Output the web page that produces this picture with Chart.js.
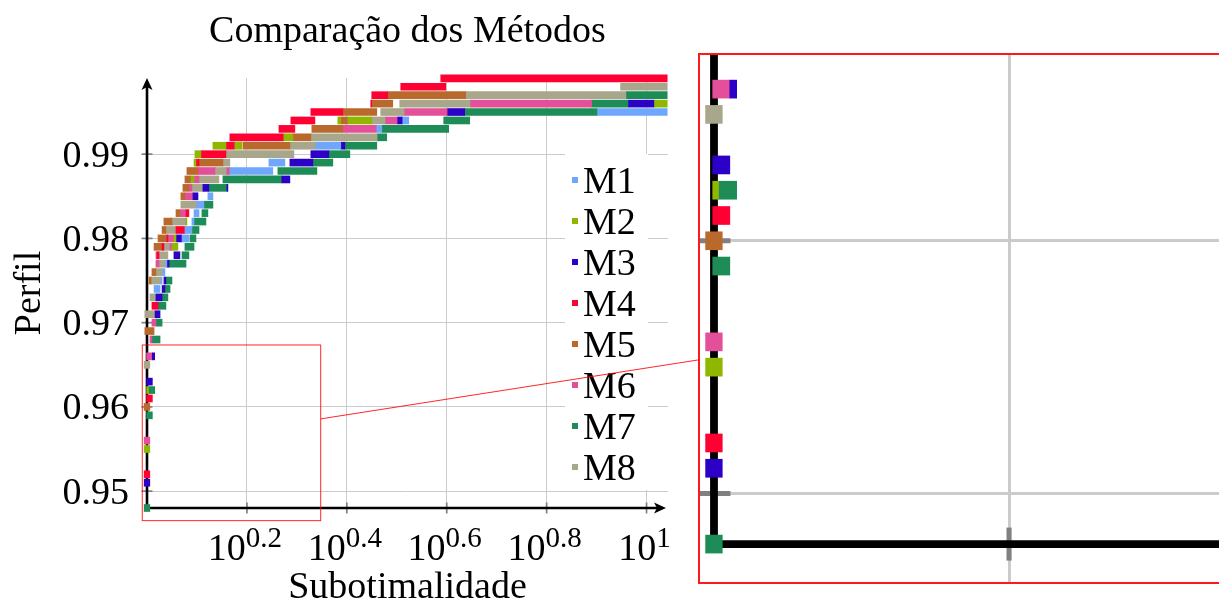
<!DOCTYPE html>
<html>
<head>
<meta charset="utf-8">
<script src="https://cdn.jsdelivr.net/npm/chart.js@4.4.0/dist/chart.umd.min.js"></script>
<style>
html, body { margin: 0; padding: 0; overflow: hidden; background: #fff; width: 1219px; height: 612px; }
#main { position: absolute; left: 0; top: 0; }
#zoom { position: absolute; left: 698px; top: 53px; }
</style>
</head>
<body>
<canvas id="main" width="700" height="612"></canvas>
<canvas id="zoom" width="531" height="531"></canvas>
<script>
// cada trecho: [perfil, tau inicio, tau fim]
var m1 = [[0.974,1.033,1.062],[0.975,1.067,1.072],[0.976,1.076,1.086],[0.977,1.091,1.096],[0.980,1.175,1.213],
    [0.981,1.191,1.230],[0.982,1.230,1.242],[0.983,1.242,1.271],[0.984,1.259,1.300],[0.985,1.324,1.355],
    [0.988,1.465,1.786],[0.989,1.754,1.888],[0.991,2.178,2.443],[0.993,2.884,2.951],[0.994,3.251,3.342],[0.995,7.980,11]];
var m2 = [[0.955,0.987,1.013],[0.962,0.998,1.007],[0.979,1.122,1.153],[0.980,1.132,1.143],[0.982,1.197,1.202],
    [0.987,1.225,1.242],[0.989,1.242,1.253],[0.990,1.247,1.282],[0.991,1.355,1.439],[0.991,1.499,1.548],
    [0.992,1.879,1.959],[0.994,2.410,2.443],[0.994,2.524,2.818],[0.996,10.375,11]];
var m3 = [[0.951,0.987,1.013],[0.963,0.998,1.025],[0.966,1.025,1.036],[0.971,1.038,1.062],[0.973,1.042,1.072],
    [0.974,1.072,1.086],[0.975,1.081,1.091],[0.977,1.096,1.107],[0.978,1.132,1.164],[0.980,1.143,1.175],
    [0.985,1.236,1.265],[0.986,1.294,1.330],[0.986,1.445,1.452],[0.987,1.862,1.932],[0.989,1.932,2.148],
    [0.990,2.128,2.312],[0.991,2.443,2.489],[0.994,3.176,3.251],[0.995,4.000,4.325],[0.996,9.204,10.375]];
var m4 = [[0.952,0.987,1.013],[0.961,0.998,1.025],[0.972,1.023,1.052],[0.978,1.047,1.057],[0.979,1.072,1.081],
    [0.980,1.096,1.101],[0.981,1.143,1.191],[0.983,1.197,1.213],[0.989,1.253,1.271],[0.990,1.282,1.439],
    [0.991,1.439,1.499],[0.992,1.465,1.879],[0.993,1.837,1.977],[0.994,1.941,2.168],[0.995,2.128,2.466],
    [0.996,2.805,2.818],[0.997,2.818,3.033],[0.998,3.221,3.963],[0.999,3.873,11]];
var m5 = [[0.960,0.987,1.013],[0.969,0.99,1.033],[0.975,1.009,1.019],[0.976,1.023,1.042],[0.979,1.033,1.072],
    [0.980,1.052,1.096],[0.981,1.072,1.091],[0.982,1.081,1.122],[0.983,1.143,1.164],[0.985,1.169,1.191],
    [0.986,1.180,1.213],[0.987,1.191,1.225],[0.988,1.202,1.265],[0.989,1.271,1.419],[0.991,1.556,1.932],
    [0.992,1.959,2.128],[0.993,2.138,2.466],[0.994,2.443,2.524],[0.995,2.466,2.884],[0.996,2.818,3.104],
    [0.997,3.033,4.345]];
var m6 = [[0.956,0.987,1.013],[0.966,0.998,1.025],[0.968,1.014,1.023],[0.970,1.023,1.042],[0.977,1.042,1.057],
    [0.978,1.042,1.047],[0.979,1.112,1.122],[0.980,1.101,1.132],[0.983,1.164,1.197],[0.985,1.191,1.236],
    [0.986,1.213,1.230],[0.987,1.242,1.271],[0.988,1.265,1.368],[0.988,1.445,1.465],[0.993,2.466,2.884],
    [0.994,3.005,3.176],[0.995,3.281,4.000],[0.996,4.446,7.762]];
var m7 = [[0.948,0.987,1.013],[0.959,0.998,1.025],[0.962,1.007,1.036],[0.968,1.023,1.062],[0.970,1.042,1.072],
    [0.972,1.052,1.091],[0.973,1.072,1.101],[0.974,1.086,1.112],[0.975,1.091,1.122],[0.977,1.107,1.197],
    [0.978,1.175,1.213],[0.979,1.191,1.242],[0.980,1.219,1.253],[0.981,1.230,1.271],[0.982,1.242,1.312],
    [0.983,1.288,1.324],[0.984,1.300,1.355],[0.986,1.330,1.445],[0.987,1.419,1.862],[0.988,1.828,2.188],
    [0.989,2.148,2.355],[0.990,2.312,2.547],[0.991,2.489,2.884],[0.992,2.897,3.019],[0.993,2.951,4.018],
    [0.994,3.926,4.426],[0.995,4.325,7.980],[0.996,7.762,9.204],[0.997,9.120,11]];
var m8 = [[0.965,0.987,1.013],[0.971,0.99,1.038],[0.973,1.014,1.042],[0.975,1.019,1.067],[0.976,1.042,1.076],
    [0.977,1.057,1.091],[0.978,1.057,1.101],[0.979,1.081,1.112],[0.981,1.091,1.143],[0.982,1.122,1.197],
    [0.984,1.169,1.259],[0.986,1.230,1.294],[0.987,1.271,1.393],[0.988,1.368,1.445],[0.989,1.419,1.465],
    [0.990,1.439,1.968],[0.991,1.932,2.178],[0.992,2.128,2.897],[0.994,2.818,3.005],[0.995,2.937,3.281],
    [0.996,3.206,4.446],[0.997,4.345,9.120],[0.998,8.872,11]];

var metodos = ["M1", "M2", "M3", "M4", "M5", "M6", "M7", "M8"];
var cores = ["#6ea7fb", "#8fb700", "#2c00c6", "#ff0033", "#b9692c", "#e44f9a", "#1d8c57", "#a8a78c"];
var series = [m1, m2, m3, m4, m5, m6, m7, m8];

var yTicks = [0.95, 0.96, 0.97, 0.98, 0.99];
var xTickExp = ["0.2", "0.4", "0.6", "0.8", "1"];
var xLim = [1, 11.04];
var yLim = [0.948, 0.99904];
var zoomX = [0.9784, 2.227];
var zoomY = [0.9465, 0.96735];

var fonte = '"Liberation Serif", "Times New Roman", serif';

function montaDatasets(espessura, corta) {
    return series.map(function (s, i) {
        return {
            label: metodos[i],
            data: s.map(function (p) { return { y: p[0], x: [p[1], p[2]] }; }),
            backgroundColor: cores[i],
            borderWidth: 0,
            barThickness: espessura,
            grouped: false,
            clip: corta
        };
    });
}

function escalas(xr, yr, k) {
    return {
        x: {
            type: 'logarithmic', min: xr[0], max: xr[1],
            afterBuildTicks: function (s) {
                s.ticks = xTickExp.map(function (e) { return { value: Math.pow(10, parseFloat(e)) }; })
                    .filter(function (t) { return t.value >= s.min && t.value <= s.max; });
            },
            ticks: { display: false },
            grid: { color: '#cbcbcb', lineWidth: k, drawTicks: false },
            border: { display: false }
        },
        y: {
            type: 'linear', min: yr[0], max: yr[1], offset: false,
            afterBuildTicks: function (s) {
                s.ticks = yTicks.filter(function (v) { return v >= s.min && v <= s.max; })
                    .map(function (v) { return { value: v }; });
            },
            ticks: { display: false },
            grid: { color: '#cbcbcb', lineWidth: k, drawTicks: false, offset: false },
            border: { display: false }
        }
    };
}

function linha(ctx, x1, y1, x2, y2) {
    ctx.beginPath();
    ctx.moveTo(x1, y1);
    ctx.lineTo(x2, y2);
    ctx.stroke();
}

// eixos e marcas, k = fator de escala (1 no grafico, 3 no zoom)
function desenhaEixos(chart, k, seta) {
    var ctx = chart.ctx, a = chart.chartArea, sx = chart.scales.x, sy = chart.scales.y;
    var x0 = sx.getPixelForValue(1), y0 = sy.getPixelForValue(yLim[0]);
    ctx.save();
    ctx.strokeStyle = '#808080';
    ctx.lineWidth = 1.7 * k;
    sy.ticks.forEach(function (t) {
        var y = sy.getPixelForValue(t.value);
        linha(ctx, x0 - 5.5 * k, y, x0 + 5.5 * k, y);
    });
    sx.ticks.forEach(function (t) {
        var x = sx.getPixelForValue(t.value);
        linha(ctx, x, y0 - 5.5 * k, x, y0 + 5.5 * k);
    });
    ctx.strokeStyle = '#000';
    ctx.fillStyle = '#000';
    ctx.lineWidth = 2.6 * k;
    if (seta) {
        linha(ctx, x0, y0 + 1, x0, a.top + 8);
        linha(ctx, x0 - 1, y0, a.right - 8, y0);
        ctx.beginPath();
        ctx.moveTo(x0, a.top);
        ctx.lineTo(x0 - 5.5, a.top + 12);
        ctx.lineTo(x0, a.top + 9);
        ctx.lineTo(x0 + 5.5, a.top + 12);
        ctx.closePath();
        ctx.fill();
        ctx.beginPath();
        ctx.moveTo(a.right - 2, y0);
        ctx.lineTo(a.right - 14, y0 - 5.5);
        ctx.lineTo(a.right - 11, y0);
        ctx.lineTo(a.right - 14, y0 + 5.5);
        ctx.closePath();
        ctx.fill();
    } else {
        linha(ctx, x0, y0 + 1.3 * k, x0, a.top);
        linha(ctx, x0 - 1.3 * k, y0, a.right, y0);
    }
    ctx.restore();
}

var eixosMain = {
    id: 'eixosMain',
    beforeDatasetsDraw: function (chart) { desenhaEixos(chart, 1, true); },
    afterDraw: function (chart) {
        var ctx = chart.ctx, a = chart.chartArea, sx = chart.scales.x, sy = chart.scales.y;
        var cx = (a.left + a.right) / 2;
        ctx.save();
        ctx.fillStyle = '#000';
        ctx.font = '38px ' + fonte;
        ctx.textAlign = 'center';
        ctx.fillText('Comparação dos Métodos', cx, 42);
        ctx.fillText('Subotimalidade', cx, 598);
        ctx.save();
        ctx.translate(40, (a.top + a.bottom) / 2);
        ctx.rotate(-Math.PI / 2);
        ctx.fillText('Perfil', 0, 0);
        ctx.restore();

        ctx.textAlign = 'right';
        yTicks.forEach(function (v) {
            ctx.fillText(v.toFixed(2), 129, sy.getPixelForValue(v) + 12.5);
        });

        ctx.textAlign = 'left';
        xTickExp.forEach(function (e) {
            var x = sx.getPixelForValue(Math.pow(10, parseFloat(e)));
            ctx.font = '38px ' + fonte;
            var w1 = ctx.measureText('10').width;
            ctx.font = '29px ' + fonte;
            var w2 = ctx.measureText(e).width;
            var xs = x - (w1 + w2) / 2 - 2;
            ctx.font = '38px ' + fonte;
            ctx.fillText('10', xs, 560);
            ctx.font = '29px ' + fonte;
            ctx.fillText(e, xs + w1, 547);
        });

        // legenda
        ctx.fillStyle = '#fff';
        ctx.fillRect(565, 154, 83, 336);
        ctx.font = '38px ' + fonte;
        metodos.forEach(function (m, i) {
            var y = 180 + 41 * i;
            ctx.fillStyle = cores[i];
            ctx.fillRect(572, y - 3, 6, 6);
            ctx.fillStyle = '#000';
            ctx.fillText(m, 583, y + 12.5);
        });

        // retangulo do zoom e ligacao
        var rx1 = sx.getPixelForValue(zoomX[0]), rx2 = sx.getPixelForValue(zoomX[1]);
        var ry1 = sy.getPixelForValue(zoomY[1]), ry2 = sy.getPixelForValue(zoomY[0]);
        ctx.strokeStyle = 'rgba(255,0,0,0.85)';
        ctx.lineWidth = 1;
        ctx.strokeRect(rx1, ry1, rx2 - rx1, ry2 - ry1);
        var c1x = (rx1 + rx2) / 2, c1y = (ry1 + ry2) / 2;
        var c2x = 963.5, c2y = 318.5;
        var inc = (c2y - c1y) / (c2x - c1x);
        linha(ctx, rx2, c1y + (rx2 - c1x) * inc, 700, c1y + (700 - c1x) * inc);
        ctx.restore();
    }
};

var eixosZoom = {
    id: 'eixosZoom',
    beforeDatasetsDraw: function (chart) { desenhaEixos(chart, 3, false); },
    afterDraw: function (chart) {
        var ctx = chart.ctx;
        ctx.save();
        ctx.strokeStyle = '#ff1a1a';
        ctx.lineWidth = 2;
        ctx.strokeRect(1, 1, chart.width + 10, chart.height - 2);
        ctx.restore();
    }
};

new Chart(document.querySelector('#main'), {
    type: 'bar',
    data: { datasets: montaDatasets(7, false) },
    options: {
        indexAxis: 'y',
        responsive: false,
        animation: false,
        layout: { padding: { left: 147, right: 32, top: 78, bottom: 104 } },
        scales: escalas(xLim, yLim, 1),
        plugins: { legend: { display: false }, tooltip: { enabled: false } }
    },
    plugins: [eixosMain]
});

new Chart(document.querySelector('#zoom'), {
    type: 'bar',
    data: { datasets: montaDatasets(18, true) },
    options: {
        indexAxis: 'y',
        responsive: false,
        animation: false,
        layout: { padding: { left: 2, right: 2, top: 2, bottom: 2 } },
        scales: escalas(zoomX, zoomY, 3),
        plugins: { legend: { display: false }, tooltip: { enabled: false } }
    },
    plugins: [eixosZoom]
});
</script>
</body>
</html>
